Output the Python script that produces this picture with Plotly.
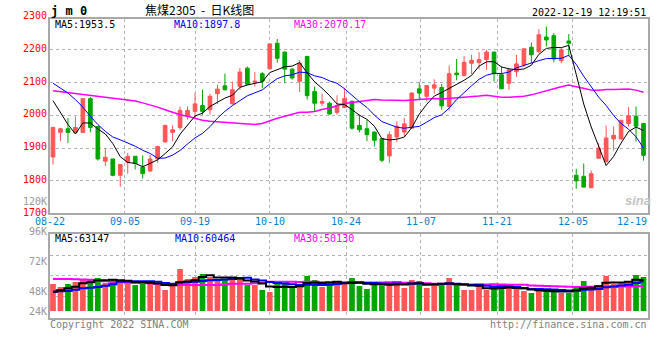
import plotly.graph_objects as go

# ---------------- data ----------------
opens = [1873, 1948, 1959, 1948, 1948, 2051, 1966, 1860, 1867, 1817,
         1857, 1875, 1842, 1830, 1867, 1919, 1948, 1963, 1997, 2012,
         2030, 2017, 2066, 2090, 2035, 2088, 2144, 2101, 2127, 2142,
         2220, 2193, 2141, 2104, 2180, 2073, 2037, 2037, 2009, 2024,
         2043, 1969, 1959, 1949, 1929, 1876, 1934, 1949, 1961, 2081,
         2058, 2083, 2085, 2027, 2129, 2121, 2159, 2161, 2170, 2193,
         2124, 2098, 2133, 2154, 2208, 2195, 2239, 2243, 2167, 2227,
         1817, 1814, 1779, 1869, 1858, 1928, 1928, 1975, 1997, 1975]
highs = [1965, 1962, 1992, 1997, 2053, 2056, 1966, 1900, 1867, 1852,
         1885, 1875, 1878, 1879, 1907, 1972, 1969, 2027, 2027, 2068,
         2078, 2066, 2093, 2127, 2103, 2144, 2149, 2132, 2132, 2219,
         2233, 2195, 2144, 2169, 2180, 2088, 2066, 2042, 2061, 2084,
         2045, 2002, 1987, 1950, 1930, 1951, 1982, 1992, 2070, 2101,
         2092, 2110, 2096, 2152, 2172, 2180, 2185, 2193, 2200, 2194,
         2149, 2140, 2185, 2204, 2222, 2263, 2271, 2251, 2205, 2248,
         1837, 1853, 1832, 1915, 1969, 1966, 1986, 2025, 2027, 1977]
lows = [1850, 1921, 1916, 1946, 1946, 1948, 1862, 1845, 1814, 1782,
        1822, 1835, 1807, 1828, 1855, 1916, 1921, 1956, 1987, 1997,
        2002, 2002, 2034, 2076, 2033, 2078, 2093, 2088, 2083, 2141,
        2161, 2098, 2109, 2071, 2048, 2012, 2029, 2002, 2002, 2022,
        1956, 1948, 1921, 1905, 1857, 1855, 1918, 1936, 1960, 2047,
        2043, 2066, 2017, 2015, 2107, 2120, 2126, 2141, 2139, 2103,
        2080, 2078, 2117, 2147, 2160, 2190, 2210, 2162, 2159, 2180,
        1776, 1781, 1779, 1869, 1858, 1893, 1927, 1966, 1920, 1862]
closes = [1963, 1959, 1948, 1963, 2051, 1963, 1867, 1872, 1817, 1850,
          1875, 1853, 1822, 1867, 1905, 1969, 1956, 2015, 2015, 2035,
          2012, 2058, 2080, 2078, 2078, 2132, 2095, 2104, 2104, 2218,
          2174, 2141, 2114, 2159, 2060, 2037, 2042, 2004, 2030, 2051,
          1961, 1956, 1941, 1924, 1863, 1941, 1967, 1974, 2068, 2068,
          2091, 2093, 2029, 2127, 2124, 2162, 2168, 2170, 2193, 2127,
          2081, 2139, 2157, 2203, 2185, 2246, 2230, 2172, 2200, 2220,
          1800, 1781, 1822, 1900, 1931, 1939, 1985, 1999, 1967, 1878]
volumes = [54900, 48800, 54900, 59000, 65100, 65100, 67200, 57000, 63100, 61100,
           59000, 52900, 57000, 57000, 54900, 42700, 50900, 85500, 65100, 69200,
           75300, 69200, 63100, 65100, 67200, 63100, 52900, 52900, 42700, 38700,
           57000, 54900, 50900, 50900, 71200, 63100, 48800, 57000, 57000, 57000,
           67200, 50900, 44800, 52900, 59000, 59000, 52900, 46800, 63100, 61100,
           46800, 50900, 54900, 67200, 52900, 42700, 42700, 50900, 42700, 48800,
           48800, 46800, 46800, 40700, 36600, 40700, 40700, 42700, 36600, 36600,
           50900, 61100, 50900, 52900, 71200, 54900, 59000, 59000, 73300, 69200]

# moving-average values at the left edge (window reaches before the first bar)
ma5_head = [2045, 2008, 1972, 1943]
ma10_head = [2098, 2083, 2068, 2048, 2025, 1997, 1972, 1951, 1934]
ma30_head = [2075, 2072, 2070, 2067, 2064, 2061, 2059, 2056, 2052, 2049,
             2046, 2044, 2038, 2032, 2025, 2017, 2009, 2002, 1997, 1991,
             1985, 1982, 1980, 1979, 1976, 1974, 1972, 1972, 1975]
vma5_head = [39300, 42100, 46100, 49500]
vma10_head = [39300, 40000, 40700, 43400, 46100, 47500, 48800, 51600, 54300]
vma30_head = [65100, 65100, 65100, 64500, 64000, 63500, 61100, 60400, 59700, 59000,
              58300, 57600, 57000, 56300, 55600, 54300, 53600, 52900, 52900, 52900,
              52900, 52900, 52900, 54300, 55600, 55600, 55600, 56300, 57000]

tick_labels = ["08-22", "09-05", "09-19", "10-10", "10-24", "11-07", "11-21", "12-05", "12-19"]
tick_index = [0, 10, 19, 29, 39, 49, 59, 69, 79]
price_labels = [2300, 2200, 2100, 2000, 1900, 1800, 1700]
vol_labels = ["96K", "72K", "48K", "24K"]

# ---------------- helpers ----------------
def moving_average(vals, n, head):
    out = list(head)
    for i in range(len(head), len(vals)):
        out.append(sum(vals[i - n + 1:i + 1]) / n)
    return out

x = list(range(len(closes)))
ma5 = moving_average(closes, 5, ma5_head)
ma10 = moving_average(closes, 10, ma10_head)
ma30 = moving_average(closes, 30, ma30_head)
vma5 = moving_average(volumes, 5, vma5_head)
vma10 = moving_average(volumes, 10, vma10_head)
vma30 = moving_average(volumes, 30, vma30_head)

RED = "#ff5656"
GREEN = "#00a600"
bar_colors = [RED if c >= o else GREEN for o, c in zip(opens, closes)]

# layout geometry (window pixels)
W, H = 660, 360
L_PX, R_PX, T_PX, B_PX = 50, 650, 19, 318
MAIN_BOTTOM = 213
VOL_TOP = 234
PH = B_PX - T_PX
X_RANGE = [-0.4, 79.6]
P_RANGE = [1702, 2294]
V_RANGE = [-14245, 156695]
grid_pos = [9.6, 19, 29, 39.2, 49.2, 59.4, 69.5]

def py(ypx):
    return (B_PX - ypx) / PH

def px(xpx):
    return (xpx - L_PX) / (R_PX - L_PX)

def price_px(v):
    return T_PX + (P_RANGE[1] - v) / (P_RANGE[1] - P_RANGE[0]) * (MAIN_BOTTOM - T_PX)

MONO = "DejaVu Sans Mono"

fig = go.Figure()
fig.add_trace(go.Candlestick(
    x=x, open=opens, high=highs, low=lows, close=closes,
    increasing=dict(line=dict(color=RED, width=1), fillcolor=RED),
    decreasing=dict(line=dict(color=GREEN, width=1), fillcolor=GREEN),
    whiskerwidth=0, xaxis="x", yaxis="y", hoverinfo="skip"))
for vals, col, w in [(ma30, "#ff00ff", 1.5), (ma10, "#0000ff", 1), (ma5, "#000000", 1)]:
    fig.add_trace(go.Scatter(x=x, y=vals, mode="lines", line=dict(color=col, width=w),
                             xaxis="x", yaxis="y", hoverinfo="skip"))

fig.add_trace(go.Bar(x=x, y=volumes, marker=dict(color=bar_colors, line=dict(width=0)),
                     width=0.76, xaxis="x2", yaxis="y2", hoverinfo="skip"))
for vals, col in [(vma30, "#ff00ff"), (vma10, "#0000ff"), (vma5, "#000000")]:
    fig.add_trace(go.Scatter(x=x, y=vals, mode="lines", line=dict(color=col, width=2, shape="hvh"),
                             xaxis="x2", yaxis="y2", hoverinfo="skip"))

axis_common = dict(showline=True, mirror=True, linecolor="#a8a8a8", linewidth=2,
                   showgrid=True, gridcolor="#b4b4b4", griddash="dot", gridwidth=1,
                   zeroline=False, ticks="", showticklabels=False)

fig.update_layout(
    width=W, height=H,
    margin=dict(l=L_PX, r=W - R_PX, t=T_PX, b=H - B_PX, pad=0),
    paper_bgcolor="white", plot_bgcolor="white", showlegend=False,
    hovermode=False,
    xaxis=dict(domain=[0, 1], range=X_RANGE, anchor="y", tickvals=grid_pos,
               rangeslider=dict(visible=False), **axis_common),
    xaxis2=dict(domain=[0, 1], range=X_RANGE, anchor="y2", tickvals=grid_pos, **axis_common),
    yaxis=dict(domain=[py(MAIN_BOTTOM), 1], range=P_RANGE, tickvals=[1800, 1900, 2000, 2100, 2200],
               anchor="x", **axis_common),
    yaxis2=dict(domain=[0, py(VOL_TOP)], range=V_RANGE, tickvals=[30500, 72700, 113400],
                anchor="x2", **axis_common),
)

ann = []
def text(t, xpx, ypx, color="#000", size=10, anchor="left", family=MONO, **kw):
    ann.append(dict(text=t, x=px(xpx), y=py(ypx), xref="paper", yref="paper",
                    xanchor=anchor, yanchor="middle", showarrow=False, borderpad=0,
                    font=dict(family=family, size=size, color=color), **kw))

# header
text("<b>j m 0</b>", 50, 11, size=12)
text("焦煤2305\u00a0\u00a0-\u00a0\u00a0日K线图", 200, 9.5, size=12, anchor="center",
     family="Noto Sans CJK SC")
text("2022-12-19 12:19:51", 649, 12, anchor="right")
# legends
text("MA5:1953.5", 54, 24.5)
text("MA10:1897.8", 173, 24.5, color="#0000ff")
text("MA30:2070.17", 294, 24.5, color="#ff00ff")
text("MA5:63147", 54, 238.5)
text("MA10:60464", 174, 238.5, color="#0000ff")
text("MA30:50130", 294, 238.5, color="#ff00ff")
# price labels
for v in price_labels:
    text(str(v), 48, price_px(v) - 1.5, color="#ff0000", anchor="right")
text("120K", 48, 201, color="#999999", anchor="right")
for lab, ypx in zip(vol_labels, [231.5, 261, 291, 311]):
    text(lab, 48, ypx, color="#999999", anchor="right")
# date labels
for lab, idx, gx in zip(tick_labels, tick_index, [X_RANGE[0]] + grid_pos + [X_RANGE[1]]):
    xpx = L_PX + (gx - X_RANGE[0]) / (X_RANGE[1] - X_RANGE[0]) * (R_PX - L_PX)
    anchor = "right" if idx == tick_index[-1] else "center"
    text(lab, xpx, 221, color="#0a7fd0", anchor=anchor)
# footer
text("Copyright 2022 SINA.COM", 49, 324.5, color="#808080")
text("http://finance.sina.com.cn", 650, 324.5, color="#808080", anchor="right")
# watermark
text("<b><i>sina</i></b>", 640, 200, color="#c4c4c4", size=13, anchor="center", family="Liberation Sans")

fig.update_layout(annotations=ann)
fig.write_html("out.html", config={"displayModeBar": False},
               post_script="document.body.style.margin='0';")
